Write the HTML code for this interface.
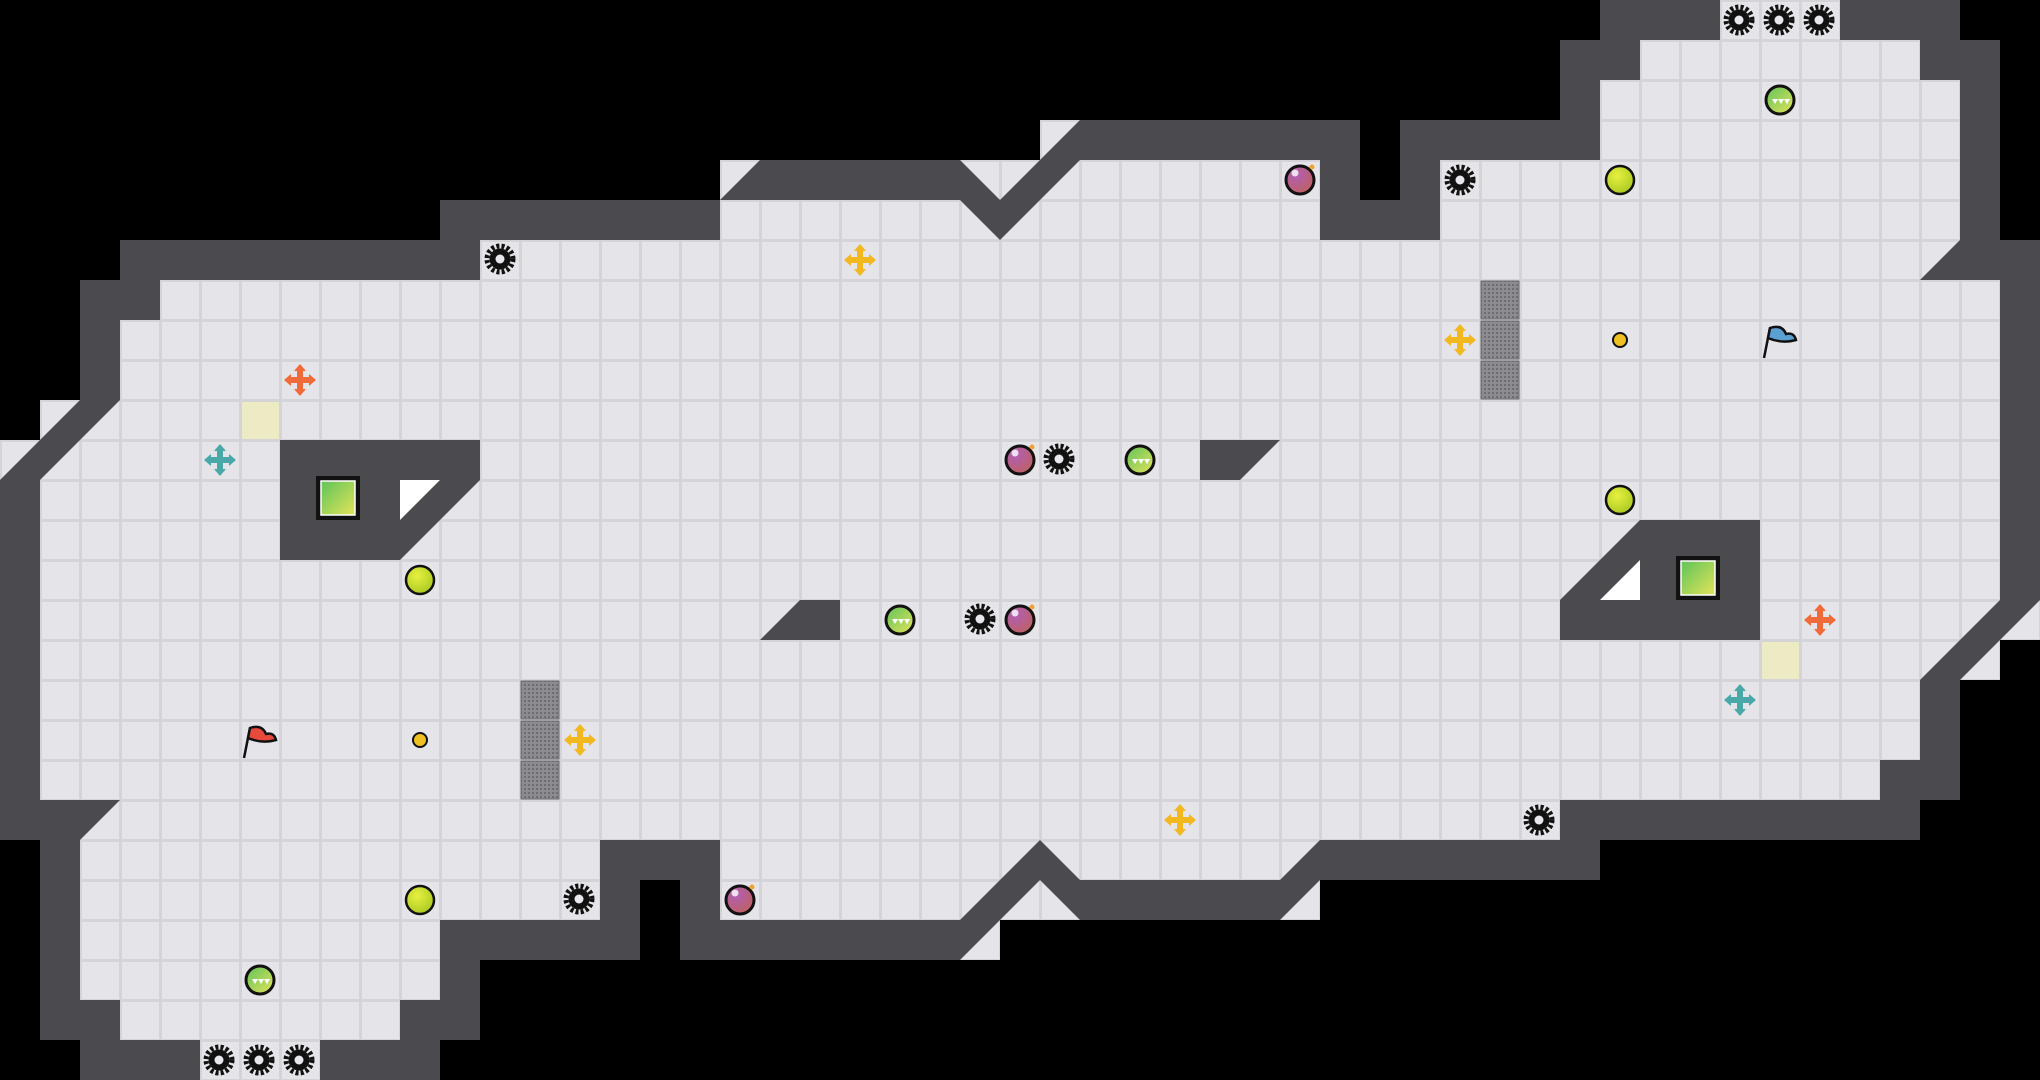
<!DOCTYPE html>
<html><head><meta charset="utf-8"><style>
html,body{margin:0;padding:0;background:#000;}
svg{display:block}
</style></head><body>
<svg width="2040" height="1080" viewBox="0 0 2040 1080" xmlns="http://www.w3.org/2000/svg">
<defs>
<pattern id="g" width="40" height="40" patternUnits="userSpaceOnUse">
<rect width="40" height="40" fill="#d3d3d8"/>
<rect x="2" y="2" width="37" height="37" fill="#e4e4e9"/>
</pattern>
<pattern id="gr" width="4" height="4" patternUnits="userSpaceOnUse">
<rect width="4" height="4" fill="#8c8c90"/><rect width="2" height="2" fill="#6e6e72"/>
</pattern>
<linearGradient id="lg" x1="0" y1="0" x2="1" y2="1"><stop offset="0" stop-color="#5ec45a"/><stop offset="1" stop-color="#e3e35a"/></linearGradient>
<radialGradient id="pg" cx="0.35" cy="0.3" r="0.8"><stop offset="0" stop-color="#b060b8"/><stop offset="1" stop-color="#c0605a"/></radialGradient>
<radialGradient id="yg" cx="0.4" cy="0.35" r="0.7"><stop offset="0" stop-color="#e8f040"/><stop offset="1" stop-color="#a8c820"/></radialGradient>
<g id="gear"><circle r="13" fill="none" stroke="#111" stroke-width="5" stroke-dasharray="3 2.2"/><circle r="10.5" fill="#111"/><circle r="4.5" fill="#e8e8ec"/></g>
<g id="lime"><circle r="14" fill="url(#yg)" stroke="#111" stroke-width="2.5"/></g>
<g id="dot"><circle r="7" fill="#f0c020" stroke="#111" stroke-width="2"/></g>
<g id="purp"><circle r="14" fill="url(#pg)" stroke="#111" stroke-width="3"/><circle cx="-5" cy="-7" r="3.5" fill="#fff" opacity=".8"/><circle cx="12" cy="-13" r="2.5" fill="#f0a030"/></g>
<g id="grn"><circle r="14" fill="url(#lg)" stroke="#111" stroke-width="3"/><path d="M-8 -1 l3 5 l3 -5 z M-2 -1 l3 5 l3 -5z M4 -1 l3 5 l3 -5z" fill="#fff"/></g>
<g id="cross"><path d="M-3 -10 h6 v7 h7 v6 h-7 v7 h-6 v-7 h-7 v-6 h7z"/><path d="M0 -16 l6 7 h-12z M0 16 l6 -7 h-12z M-16 0 l7 6 v-12z M16 0 l-7 6 v-12z"/></g>
</defs>
<rect width="2040" height="1080" fill="#000"/>
<g fill="url(#g)">
<rect x="1720" y="0" width="120" height="40"/>
<rect x="1640" y="40" width="280" height="40"/>
<rect x="1600" y="80" width="360" height="80"/>
<rect x="1040" y="120" width="40" height="40"/>
<rect x="960" y="160" width="360" height="40"/>
<rect x="1440" y="160" width="520" height="80"/>
<rect x="720" y="160" width="40" height="40"/>
<rect x="720" y="200" width="600" height="40"/>
<rect x="480" y="240" width="1480" height="40"/>
<rect x="160" y="280" width="1840" height="40"/>
<rect x="120" y="320" width="1880" height="80"/>
<rect x="40" y="400" width="1960" height="40"/>
<rect x="0" y="440" width="2000" height="160"/>
<rect x="40" y="600" width="2000" height="40"/>
<rect x="40" y="640" width="1960" height="40"/>
<rect x="40" y="680" width="1880" height="80"/>
<rect x="40" y="760" width="1840" height="40"/>
<rect x="80" y="800" width="1480" height="40"/>
<rect x="80" y="840" width="520" height="40"/>
<rect x="720" y="840" width="600" height="40"/>
<rect x="80" y="880" width="520" height="40"/>
<rect x="720" y="880" width="600" height="40"/>
<rect x="80" y="920" width="360" height="80"/>
<rect x="960" y="920" width="40" height="40"/>
<rect x="120" y="1000" width="280" height="40"/>
<rect x="200" y="1040" width="120" height="40"/>
</g>
<rect x="242" y="402" width="37" height="37" fill="#ecebc4"/>
<rect x="1762" y="642" width="37" height="37" fill="#ecebc4"/>
<g fill="url(#gr)" stroke="#6a6a6e" stroke-width="1">
<rect x="1481" y="281" width="38" height="38"/><rect x="1481" y="321" width="38" height="38"/><rect x="1481" y="361" width="38" height="38"/>
<rect x="521" y="681" width="38" height="38"/><rect x="521" y="721" width="38" height="38"/><rect x="521" y="761" width="38" height="38"/>
</g>
<g fill="#4a4a4f">
<rect x="1600" y="0" width="120" height="40"/>
<rect x="1840" y="0" width="120" height="40"/>
<rect x="1560" y="40" width="80" height="40"/>
<rect x="1920" y="40" width="80" height="40"/>
<rect x="1560" y="80" width="40" height="80"/>
<rect x="1960" y="80" width="40" height="160"/>
<rect x="1080" y="120" width="280" height="40"/>
<rect x="1320" y="120" width="40" height="120"/>
<rect x="1360" y="200" width="80" height="40"/>
<rect x="1400" y="120" width="200" height="40"/>
<rect x="1400" y="120" width="40" height="120"/>
<rect x="760" y="160" width="200" height="40"/>
<polygon points="720,200 760,160 760,200"/>
<polygon points="960,160 1000,200 1080,120 1080,160 1000,240 960,200"/>
<rect x="440" y="200" width="280" height="40"/>
<rect x="120" y="240" width="360" height="40"/>
<rect x="80" y="280" width="80" height="40"/>
<rect x="80" y="320" width="40" height="80"/>
<polygon points="80,400 120,400 40,480 40,800 0,800 0,480"/>
<polygon points="1960,240 2040,240 2040,280 1920,280"/>
<rect x="2000" y="240" width="40" height="360"/>
<polygon points="2000,600 2040,600 1960,680 1960,760 1920,760 1920,680"/>
<rect x="1880" y="760" width="80" height="40"/>
<rect x="1560" y="800" width="360" height="40"/>
<polygon points="0,800 120,800 80,840 0,840"/>
<rect x="40" y="840" width="40" height="160"/>
<rect x="600" y="840" width="120" height="40"/>
<rect x="600" y="880" width="40" height="40"/>
<rect x="680" y="880" width="40" height="40"/>
<rect x="1320" y="840" width="280" height="40"/>
<polygon points="960,920 1040,840 1080,880 1280,880 1320,840 1320,880 1280,920 1080,920 1040,880 960,960"/>
<rect x="440" y="920" width="200" height="40"/>
<rect x="680" y="920" width="280" height="40"/>
<rect x="440" y="960" width="40" height="40"/>
<rect x="40" y="1000" width="80" height="40"/>
<rect x="400" y="1000" width="80" height="40"/>
<rect x="80" y="1040" width="120" height="40"/>
<rect x="320" y="1040" width="120" height="40"/>
<polygon points="280,440 480,440 480,480 400,560 280,560"/>
<polygon points="1640,520 1760,520 1760,640 1560,640 1560,600"/>
<polygon points="1200,440 1280,440 1240,480 1200,480"/>
<polygon points="800,600 840,600 840,640 760,640"/>
</g>
<polygon points="400,480 440,480 400,520" fill="#fff"/>
<polygon points="1640,560 1640,600 1600,600" fill="#fff"/>
<rect x="316" y="476" width="44" height="44" fill="#111"/>
<rect x="321" y="481" width="34" height="34" fill="url(#lg)" stroke="#fff" stroke-width="1.5"/>
<rect x="1676" y="556" width="44" height="44" fill="#111"/>
<rect x="1681" y="561" width="34" height="34" fill="url(#lg)" stroke="#fff" stroke-width="1.5"/>
<use href="#gear" x="500" y="259"/><use href="#gear" x="1460" y="180"/><use href="#gear" x="1059" y="459"/>
<use href="#gear" x="980" y="619"/><use href="#gear" x="579" y="899"/><use href="#gear" x="1539" y="820"/>
<use href="#gear" x="1739" y="20"/><use href="#gear" x="1779" y="20"/><use href="#gear" x="1819" y="20"/>
<use href="#gear" x="219" y="1060"/><use href="#gear" x="259" y="1060"/><use href="#gear" x="299" y="1060"/>
<use href="#lime" x="1620" y="180"/><use href="#lime" x="1620" y="500"/><use href="#lime" x="420" y="580"/><use href="#lime" x="420" y="900"/>
<use href="#dot" x="1620" y="340"/><use href="#dot" x="420" y="740"/>
<use href="#purp" x="1300" y="180"/><use href="#purp" x="1020" y="460"/><use href="#purp" x="1020" y="620"/><use href="#purp" x="740" y="900"/>
<use href="#grn" x="1780" y="100"/><use href="#grn" x="1140" y="460"/><use href="#grn" x="900" y="620"/><use href="#grn" x="260" y="980"/>
<g fill="#f2b820"><use href="#cross" x="860" y="260"/><use href="#cross" x="1460" y="340"/><use href="#cross" x="580" y="740"/><use href="#cross" x="1180" y="820"/></g>
<g fill="#f06a3a"><use href="#cross" x="300" y="380"/><use href="#cross" x="1820" y="620"/></g>
<g fill="#4aa8a8"><use href="#cross" x="220" y="460"/><use href="#cross" x="1740" y="700"/></g>
<g stroke="#111" stroke-width="2.5" fill="#e84a3a"><line x1="244" y1="758" x2="250" y2="728"/><path d="M250 728 q12 -4 16 6 q8 -2 10 6 q-14 4 -28 -2z"/></g>
<g stroke="#111" stroke-width="2.5" fill="#5aa0d0"><line x1="1764" y1="358" x2="1770" y2="328"/><path d="M1770 328 q12 -4 16 6 q8 -2 10 6 q-14 4 -28 -2z"/></g>
</svg>
</body></html>
